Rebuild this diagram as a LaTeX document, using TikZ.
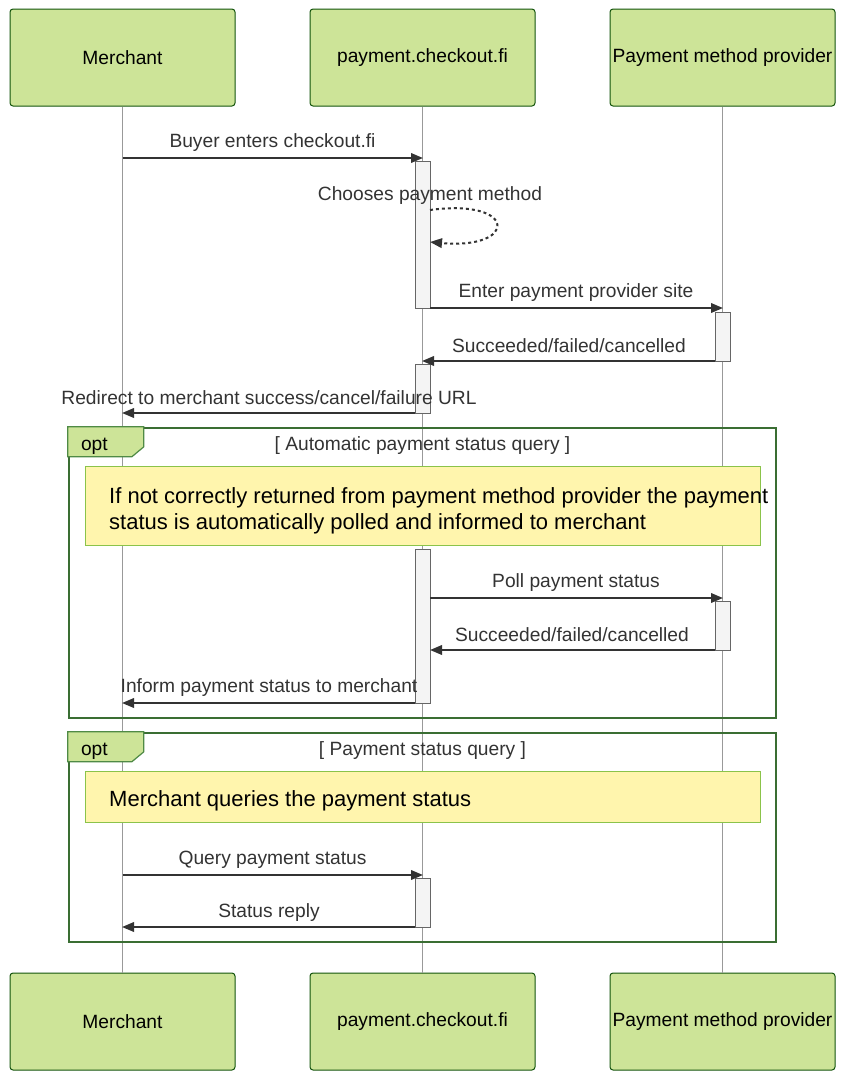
\documentclass[tikz,border=0pt]{standalone}
\usepackage{fontspec}
\setmainfont{Liberation Sans}
\usetikzlibrary{arrows.meta}
\definecolor{actfill}{HTML}{CDE498}
\definecolor{actline}{HTML}{13540C}
\definecolor{txt}{HTML}{333333}
\definecolor{notefill}{HTML}{FFF5AD}
\definecolor{noteline}{HTML}{8BC34A}
\definecolor{frameline}{HTML}{3A6E33}
\definecolor{tabline}{HTML}{4F8A45}
\definecolor{lifeline}{HTML}{999999}
\definecolor{actvfill}{HTML}{F4F4F4}
\definecolor{actvline}{HTML}{666666}
\tikzset{
  actor/.style={draw=actline, fill=actfill, line width=1pt, rounded corners=3pt,
    minimum width=225pt, minimum height=97pt, inner sep=0pt, text=black,
    font=\fontsize{19.2}{21}\selectfont},
  lline/.style={draw=lifeline, line width=0.8pt},
  actv/.style={draw=actvline, fill=actvfill, line width=1pt, minimum width=15pt, inner sep=0pt},
  msg/.style={draw=txt, line width=2pt, -{Triangle[length=12pt,width=9.5pt]}},
  selfmsg/.style={draw=txt, line width=2pt, dash pattern=on 3pt off 3pt, -{Triangle[length=12pt,width=9.5pt]}},
  mlabel/.style={text=txt, font=\fontsize{19.2}{21}\selectfont, inner sep=0pt},
  frame/.style={draw=frameline, line width=2.4pt, inner sep=0pt},
  tab/.style={draw=tabline, fill=actfill, line width=1.2pt},
  notebox/.style={draw=noteline, fill=notefill, line width=1pt, inner sep=0pt},
  notetext/.style={text=black, font=\fontsize{22}{26}\selectfont, inner sep=0pt, align=left, anchor=west},
}
\begin{document}
\begin{tikzpicture}[x=1pt,y=-1pt]
\useasboundingbox (0,0) rectangle (846,1080);
% actors
\node[actor] (mt) at (122.5,57.5) {Merchant};
\node[actor] (ct) at (422.5,57.5) {payment.checkout.fi};
\node[actor] (pt) at (722.5,57.5) {Payment method provider};
\node[actor] (mb) at (122.5,1021.5) {Merchant};
\node[actor] (cb) at (422.5,1021.5) {payment.checkout.fi};
\node[actor] (pb) at (722.5,1021.5) {Payment method provider};
% lifelines
\draw[lline] (mt.south) -- (mb.north);
\draw[lline] (ct.south) -- (cb.north);
\draw[lline] (pt.south) -- (pb.north);
% frames
\node[frame, minimum width=707pt, minimum height=290pt] (f1) at (422.5,573) {};
\draw[tab] (f1.north west) -- ++(76,0) -- ++(0,20) -- ++(-12,10) -- ++(-64,0) -- cycle;
\node[mlabel, text=black, anchor=west] (o1) at ([xshift=13pt,yshift=-19pt]f1.north west) {opt};
\node[mlabel] (t1) at (422.5,446) {[ Automatic payment status query ]};
\node[frame, minimum width=707pt, minimum height=209pt] (f2) at (422.5,837.5) {};
\draw[tab] (f2.north west) -- ++(76,0) -- ++(0,20) -- ++(-12,10) -- ++(-64,0) -- cycle;
\node[mlabel, text=black, anchor=west] (o2) at ([xshift=13pt,yshift=-19pt]f2.north west) {opt};
\node[mlabel] (t2) at (422.5,751) {[ Payment status query ]};
% notes
\node[notebox, minimum width=675pt, minimum height=79pt] (n1) at (422.5,505.5) {};
\node[notetext] (n1t) at (109,511) {If not correctly returned from payment method provider the payment\\status is automatically polled and informed to merchant};
\node[notebox, minimum width=675pt, minimum height=51pt] (n2) at (422.5,796.5) {};
\node[notetext] (n2t) at (109,801) {Merchant queries the payment status};
% activations
\node[actv, minimum height=147pt] (a1) at (422.5,234.5) {};
\node[actv, minimum height=49pt] (a2) at (722.5,336.5) {};
\node[actv, minimum height=49pt] (a3) at (422.5,388.5) {};
\node[actv, minimum height=154pt] (a4) at (422.5,626) {};
\node[actv, minimum height=49pt] (a5) at (722.5,625.5) {};
\node[actv, minimum height=49pt] (a6) at (422.5,902.5) {};
% coordinates
\coordinate (p1s) at (122.5,158); \coordinate (p1e) at (423,158);
\coordinate (p2s) at (430,210);  \coordinate (p2e) at (430,242);
\coordinate (p3s) at (430,308);  \coordinate (p3e) at (723,308);
\coordinate (p4s) at (715,361);  \coordinate (p4e) at (422,361);
\coordinate (p5s) at (415,413);  \coordinate (p5e) at (122,413);
\coordinate (p6s) at (430,598);  \coordinate (p6e) at (723,598);
\coordinate (p7s) at (715,650);  \coordinate (p7e) at (430,650);
\coordinate (p8s) at (415,703);  \coordinate (p8e) at (122,703);
\coordinate (p9s) at (122.5,875); \coordinate (p9e) at (423,875);
\coordinate (p10s) at (415,927); \coordinate (p10e) at (122,927);
% messages
\draw[msg] (p1s) -- (p1e);
\node[mlabel] (l1) at (272.5,143) {Buyer enters checkout.fi};
\draw[selfmsg] (p2s) .. controls (518,198) and (518,250) .. (p2e);
\node[mlabel] (l2) at (430,196) {Chooses payment method};
\draw[msg] (p3s) -- (p3e);
\node[mlabel] (l3) at (576,293) {Enter payment provider site};
\draw[msg] (p4s) -- (p4e);
\node[mlabel] (l4) at (569,346) {Succeeded/failed/cancelled};
\draw[msg] (p5s) -- (p5e);
\node[mlabel] (l5) at (269,398) {Redirect to merchant success/cancel/failure URL};
\draw[msg] (p6s) -- (p6e);
\node[mlabel] (l6) at (576,583) {Poll payment status};
\draw[msg] (p7s) -- (p7e);
\node[mlabel] (l7) at (572,635) {Succeeded/failed/cancelled};
\draw[msg] (p8s) -- (p8e);
\node[mlabel] (l8) at (269,688) {Inform payment status to merchant};
\draw[msg] (p9s) -- (p9e);
\node[mlabel] (l9) at (272.5,860) {Query payment status};
\draw[msg] (p10s) -- (p10e);
\node[mlabel] (l10) at (269,913) {Status reply};
\end{tikzpicture}
\end{document}
